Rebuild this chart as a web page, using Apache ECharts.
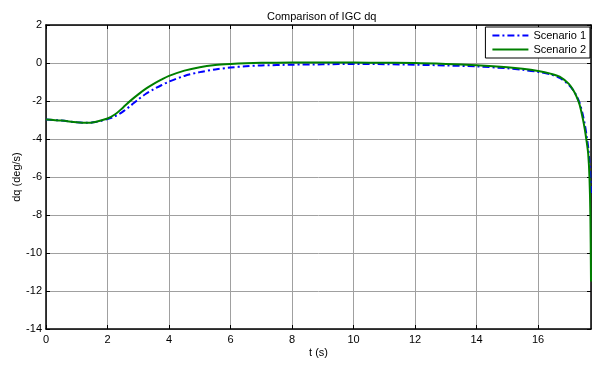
<!DOCTYPE html>
<html>
<head>
<meta charset="utf-8">
<script src="https://cdn.jsdelivr.net/npm/echarts@6/dist/echarts.min.js"></script>
<style>
  html, body { margin: 0; padding: 0; background: #fff; }
  #chart { width: 592px; height: 365px; }
</style>
</head>
<body>
<div id="chart"></div>
<script>
// time samples (s), denser near the end where dq plunges
const time = [0, 0.5, 1.0, 1.3, 1.6, 2.0, 2.25, 2.5, 2.75, 3.0, 3.25, 3.5, 3.75, 4.0, 4.5, 5.0, 5.5, 6.0, 6.5, 7.0,
  8.0, 9.0, 10.0, 11.0, 12.0, 13.0, 14.0, 15.0, 15.5, 16.0, 16.4, 16.7, 17.0, 17.15, 17.25, 17.35, 17.45,
  17.52, 17.58, 17.63, 17.67, 17.70, 17.72];

const scenario1 = [-2.97, -3.03, -3.12, -3.15, -3.11, -2.95, -2.8, -2.56, -2.25, -1.92, -1.62, -1.38, -1.17, -0.98,
  -0.68, -0.48, -0.34, -0.24, -0.17, -0.13, -0.09, -0.07, -0.05, -0.06, -0.09, -0.13, -0.18, -0.28, -0.36,
  -0.47, -0.6, -0.78, -1.15, -1.45, -1.72, -2.1, -2.7, -3.25, -3.85, -4.45, -5.2, -6.0, -7.0];

const scenario2 = [-2.97, -3.03, -3.12, -3.15, -3.1, -2.92, -2.7, -2.35, -1.98, -1.65, -1.35, -1.1, -0.88, -0.68,
  -0.4, -0.22, -0.11, -0.05, -0.01, 0.01, 0.02, 0.02, 0.02, 0.01, 0, -0.05, -0.12, -0.22, -0.3,
  -0.42, -0.56, -0.72, -1.1, -1.45, -1.77, -2.2, -2.9, -3.5, -4.15, -4.8, -6.0, -8.0, -11.5];

const seriesNames = ["Scenario 1", "Scenario 2"];

const font = "Liberation Sans, Arial, sans-serif";

const myChart = echarts.init(document.getElementById("chart"));

const axisCommon = {
  axisLine: { show: true, onZero: false, lineStyle: { color: "#000", width: 1.5 } },
  axisTick: { show: true, inside: true, length: 4, lineStyle: { color: "#000" } },
};

myChart.setOption({
  animation: false,
  textStyle: { fontFamily: font },
  title: {
    text: "Comparison of IGC dq",
    left: 262,
    top: 6,
    textStyle: { fontSize: 11, fontWeight: "normal", color: "#000", fontFamily: font },
  },
  legend: {
    orient: "vertical",
    right: 2,
    top: 27,
    backgroundColor: "#fff",
    borderColor: "#000",
    borderWidth: 1,
    borderRadius: 0,
    padding: [3, 4, 3, 6],
    itemGap: 3,
    itemWidth: 36,
    itemHeight: 12,
    itemStyle: { opacity: 0 },
    textStyle: { fontSize: 11, color: "#000", fontFamily: font },
    data: seriesNames,
  },
  grid: {
    left: 46,
    right: 1,
    top: 25,
    bottom: 36,
    outerBoundsMode: "none",
  },
  xAxis: [
    {
      type: "value",
      min: 0,
      max: 17.72,
      interval: 2,
      name: "t (s)",
      nameLocation: "middle",
      nameGap: 18,
      nameMoveOverlap: false,
      nameTextStyle: { fontSize: 11, color: "#000", fontFamily: font },
      axisLabel: { fontSize: 11, color: "#000", margin: 5, showMaxLabel: false },
      splitLine: { show: true, lineStyle: { color: "#a0a0a0", width: 1 } },
      ...axisCommon,
    },
    {
      type: "value",
      position: "top",
      min: 0,
      max: 17.72,
      interval: 2,
      axisLabel: { show: false },
      splitLine: { show: false },
      ...axisCommon,
    },
  ],
  yAxis: [
    {
      type: "value",
      min: -14,
      max: 2,
      interval: 2,
      name: "dq (deg/s)",
      nameLocation: "middle",
      nameGap: 24,
      nameMoveOverlap: false,
      nameTextStyle: { fontSize: 11, color: "#000", fontFamily: font },
      axisLabel: { fontSize: 11, color: "#000", margin: 4 },
      splitLine: { show: true, lineStyle: { color: "#a0a0a0", width: 1 } },
      ...axisCommon,
    },
    {
      type: "value",
      position: "right",
      min: -14,
      max: 2,
      interval: 2,
      axisLabel: { show: false },
      splitLine: { show: false },
      ...axisCommon,
    },
  ],
  series: [
    {
      name: seriesNames[0],
      type: "line",
      data: time.map((t, i) => [t, scenario1[i]]),
      smooth: 0.3,
      symbol: "none",
      lineStyle: { color: "#0000ff", width: 2, type: [7, 3, 2, 3] },
      itemStyle: { color: "#0000ff" },
      z: 2,
    },
    {
      name: seriesNames[1],
      type: "line",
      data: time.map((t, i) => [t, scenario2[i]]),
      smooth: 0.3,
      symbol: "none",
      lineStyle: { color: "#008000", width: 2 },
      itemStyle: { color: "#008000" },
      z: 3,
    },
  ],
});
</script>
</body>
</html>
